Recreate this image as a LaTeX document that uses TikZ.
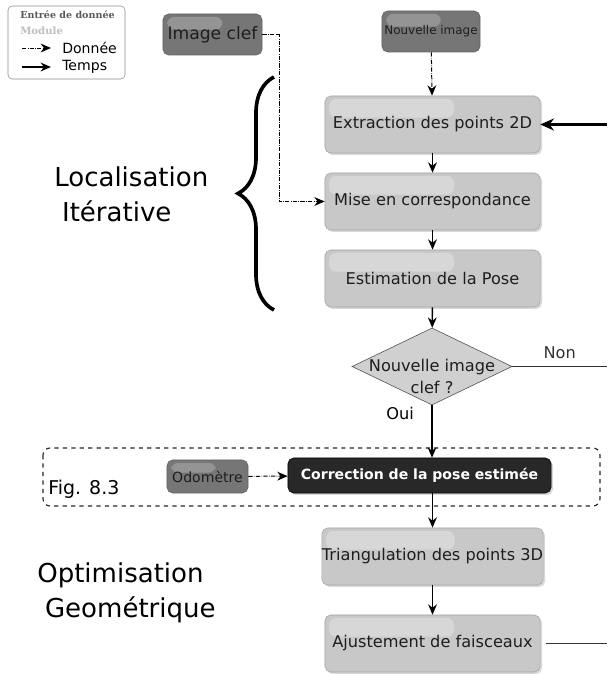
\documentclass[tikz,border=0pt]{standalone}
\usepackage{fontspec}
\setmainfont{DejaVu Sans}
\newfontfamily\legendserif{DejaVu Serif}
\usetikzlibrary{shapes.geometric,arrows.meta,decorations.pathreplacing,shadows,calc}

\definecolor{modfill}{RGB}{200,200,200}
\definecolor{modline}{RGB}{165,165,165}
\definecolor{inputfill}{RGB}{118,118,118}
\definecolor{darkfill}{RGB}{40,40,40}
\definecolor{textdark}{RGB}{30,30,30}

\tikzset{
  gloss/.style={path picture={
      \fill[white, opacity=#1, rounded corners=5pt]
        let \p1=(path picture bounding box.south east), \p2=(path picture bounding box.north west) in
        (\x2+3pt,\y2-2pt) rectangle ({\x2+0.6*(\x1-\x2)},{\y2-0.38*(\y2-\y1)});
    }},
  module/.style={rectangle, rounded corners=4pt, fill=modfill, draw=modline, text=textdark,
    minimum width=5.375cm, minimum height=1.425cm, inner sep=0pt,
    font=\fontsize{11.5}{13}\selectfont, gloss=0.28,
    drop shadow={opacity=0.3, shadow xshift=1.4pt, shadow yshift=-1.4pt}},
  entree/.style={rectangle, rounded corners=4pt, fill=inputfill, draw=inputfill!85!black, text=textdark,
    minimum height=1.025cm, inner sep=0pt, gloss=0.22},
  decision/.style={diamond, aspect=2.1, inner sep=0pt, minimum width=4cm, minimum height=1.925cm,
    fill=modfill!85, draw=black!70, text=textdark, font=\fontsize{11.5}{15.5}\selectfont},
  donnee/.style={densely dashdotted, -{Stealth[length=2.6mm, width=2.2mm]}, line width=0.7pt},
  temps/.style={-{Stealth[length=2.6mm, width=2.2mm]}, line width=1pt},
  titre/.style={align=left, font=\fontsize{18.5}{25}\selectfont, inner sep=0pt},
}

\begin{document}
\begin{tikzpicture}[x=0.025cm, y=0.025cm]
  \useasboundingbox (0,0) rectangle (607,-674);

  % Legende
  \draw[rounded corners=3pt, draw=black!45, fill=white] (8,-6) rectangle (125,-79);
  \node[font=\legendserif\bfseries\fontsize{6.8}{7}\selectfont, text=black!65, anchor=west, inner sep=0pt] (lgtitre) at (20,-15) {Entrée de donnée};
  \node[font=\legendserif\bfseries\fontsize{7.2}{8}\selectfont, text=black!25, anchor=west, inner sep=0pt] (lgmodule) at (20,-31) {Module};
  \coordinate (lgda) at (22,-48);
  \coordinate (lgdb) at (51,-48);
  \coordinate (lgta) at (22,-67);
  \coordinate (lgtb) at (51,-67);
  \draw[donnee] (lgda) -- (lgdb);
  \draw[temps] (lgta) -- (lgtb);
  \node[font=\fontsize{10}{11}\selectfont, anchor=west, inner sep=0pt] (lgdonnee) at (62,-48) {Donnée};
  \node[font=\fontsize{10}{11}\selectfont, anchor=west, inner sep=0pt] (lgtemps) at (62,-67) {Temps};

  % Entrees
  \node[entree, minimum width=2.475cm, font=\fontsize{12.2}{13}\selectfont] (imclef) at (212.5,-34.5) {Image clef};
  \node[entree, minimum width=2.45cm, font=\fontsize{8.5}{9}\selectfont] (nvimage) at (431,-31.5) {Nouvelle image};
  \node[entree, minimum width=2.025cm, minimum height=0.825cm, font=\fontsize{10}{11}\selectfont] (odometre) at (207.5,-476.5) {Odomètre};

  % Modules
  \node[module] (extraction) at (432.5,-124.5) {Extraction des points 2D};
  \node[module] (mise) at (432.5,-201.5) {Mise en correspondance};
  \node[module] (estimation) at (432.5,-278.5) {Estimation de la Pose};
  \node[decision] (nvclef) at (432,-366.5) {\raisebox{-11.5pt}[0pt][0pt]{\makebox[0pt]{\begin{tabular}{@{}c@{}}Nouvelle image\\clef ?\end{tabular}}}};
  \node[rectangle, rounded corners=4pt, fill=darkfill, draw=black, text=white,
    minimum width=6.575cm, minimum height=0.875cm, inner sep=0pt,
    font=\bfseries\fontsize{10}{11}\selectfont,
    drop shadow={opacity=0.3, shadow xshift=1.4pt, shadow yshift=-1.4pt}] (correction) at (419.5,-475.5) {Correction de la pose estimée};
  \node[module] (triangulation) at (432.5,-556.5) {Triangulation des points 3D};
  \node[module] (ajustement) at (432.5,-643.5) {Ajustement de faisceaux};

  % Cadre Fig. 8.3
  \draw[dashed, rounded corners=5pt, black!85, line width=0.8pt] (43,-448) rectangle (600,-506);
  \node[font=\fontsize{13.5}{14}\selectfont, anchor=west, inner sep=0pt] (fig) at (48,-489) {Fig. 8.3};

  % Titres des etapes
  \node[titre, anchor=north west] (loc) at (54,-166) {Localisation\\\hspace{0.3em}Itérative};
  \node[titre, anchor=north west] (optim) at (37,-562) {Optimisation\\\hspace{0.3em}Geométrique};
  \draw[line width=2.6pt, decorate, decoration={brace, amplitude=0.9cm}] (274,-310) -- (274,-77);

  % Connexions
  \coordinate (kink) at (279,-34.5);
  \coordinate (retour) at (607,-124.5);
  \coordinate (nonfin) at (607,-366.5);
  \coordinate (ajfin) at (607,-643.5);

  \draw[donnee] (nvimage) -- (extraction);
  \draw[donnee] (imclef.east) -- (kink) |- (mise.west);
  \draw[donnee] (odometre) -- (correction);
  \draw[temps, line width=1.6pt, -{Stealth[length=3.4mm, width=3mm]}] (retour) -- (extraction);
  \draw[temps] (extraction) -- (mise);
  \draw[temps] (mise) -- (estimation);
  \draw[temps] (estimation) -- (nvclef);
  \draw[temps] (nvclef.south) -- (nvclef.south |- correction.north) node[pos=0.15, left=9pt, font=\fontsize{11.5}{12}\selectfont] {Oui};
  \draw[temps] (triangulation.north |- correction.south) -- (triangulation);
  \draw[temps] (triangulation) -- (ajustement);
  \draw[line width=0.7pt, black!80] (nvclef.east) -- (nonfin) node[midway, above=2pt, font=\fontsize{11.5}{12}\selectfont] {Non};
  \draw[line width=0.7pt, black!80] ([xshift=4pt]ajustement.east) -- (ajfin);
\end{tikzpicture}
\end{document}
